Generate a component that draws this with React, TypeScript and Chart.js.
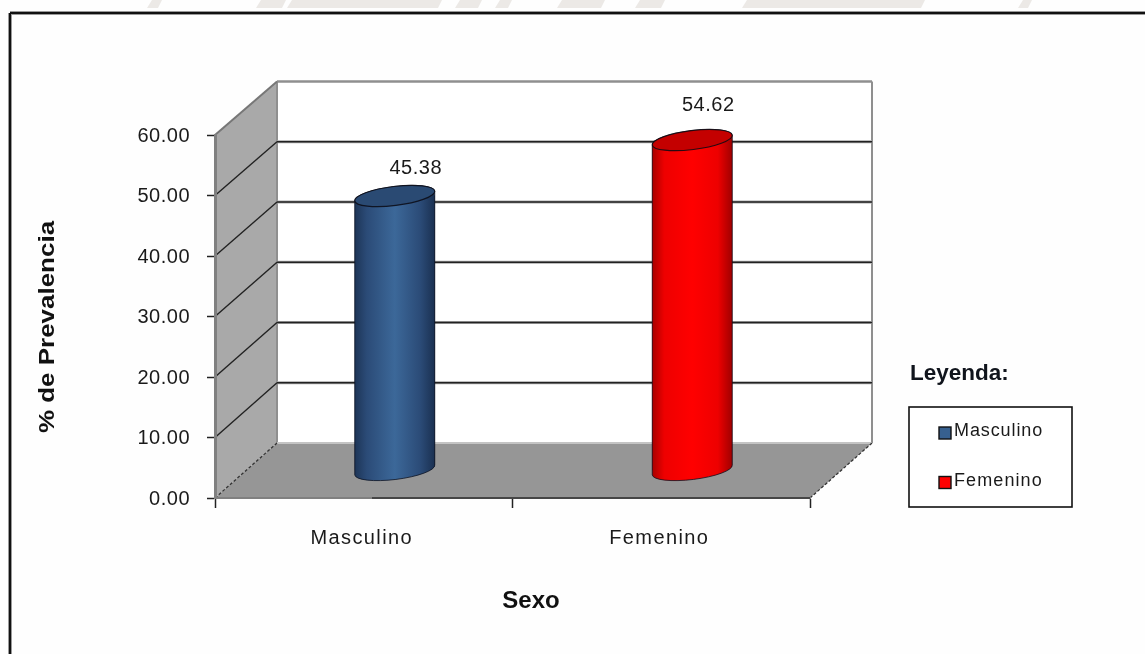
import React, { useEffect, useRef } from "react";
import { Chart, registerables } from "chart.js";

Chart.register(...registerables);

// Prevalencia por sexo
const categories = ["Masculino", "Femenino"];
const prevalence = [45.38, 54.62];
const axisTitleX = "Sexo";
const axisTitleY = "% de Prevalencia";
const bodyStops = [
  ["#1d3557", "#2b4b77", "#3c6899", "#2b4b77", "#1a3051"],
  ["#a80000", "#ee0000", "#ff0000", "#ee0000", "#a00000"],
];
const capColors = ["#2a4a73", "#c40000"];
const swatchColors = ["#37608f", "#ff0000"];
const labelNudges = [
  [21, -27],
  [16, -35],
];

// Depth of the box the cylinders stand in, in pixels
const DEPTH_X = 62;
const DEPTH_Y = 55;
const MID_X = DEPTH_X / 2;
const MID_Y = DEPTH_Y / 2;
// perspective: the back wall is slightly shorter than the front plane
const BACK_SHRINK = 1.5;
const TILT = (-7 * Math.PI) / 180;
const CAP_RY = 9.5;
const TEXT = "#1a1a1a";
const FONT = "'Liberation Sans', Arial, sans-serif";

function cylinderPath(ctx: CanvasRenderingContext2D | Path2D, el: any) {
  const rx = el.width / 2 / Math.cos(TILT);
  if ("beginPath" in ctx) ctx.beginPath();
  ctx.ellipse(el.x, el.y, rx, CAP_RY, TILT, Math.PI, 2 * Math.PI);
  ctx.ellipse(el.x, el.base, rx, CAP_RY, TILT, 0, Math.PI);
  ctx.closePath();
}

function segment(ctx: CanvasRenderingContext2D, x1: number, y1: number, x2: number, y2: number) {
  ctx.beginPath();
  ctx.moveTo(x1, y1);
  ctx.lineTo(x2, y2);
  ctx.stroke();
}

const boxPlugin = {
  id: "box3d",
  beforeDraw(chart: any) {
    const { ctx, chartArea: a, scales } = chart;
    ctx.save();
    ctx.fillStyle = "#fefefe";
    ctx.fillRect(0, 0, chart.width, chart.height);

    // faint letterhead showing above the frame
    ctx.fillStyle = "#ece9e6";
    const marks = [
      [147, 160], [256, 284], [287, 440], [455, 480], [495, 510], [557, 603],
      [635, 663], [742, 923], [1018, 1030],
    ];
    for (const [x1, x2] of marks) {
      ctx.beginPath();
      ctx.moveTo(x1 + 5, 0);
      ctx.lineTo(x2 + 2, 0);
      ctx.lineTo(x2 - 2, 8);
      ctx.lineTo(x1, 8);
      ctx.closePath();
      ctx.fill();
    }

    // outer frame
    ctx.strokeStyle = "#9a9a9a";
    ctx.lineWidth = 4;
    segment(ctx, 10, 13, chart.width, 13);
    segment(ctx, 10, 13, 10, chart.height);
    ctx.strokeStyle = "#111111";
    ctx.lineWidth = 2;
    segment(ctx, 10, 13, chart.width, 13);
    segment(ctx, 10, 13, 10, chart.height);

    const bx = a.left + DEPTH_X;
    const rx = a.right + DEPTH_X;
    const yAt = (v: number) => scales.y.getPixelForValue(v);
    const backY = (v: number) => yAt(v) - DEPTH_Y + (v / 60) * BACK_SHRINK;
    const y0 = yAt(0);
    const yMax = yAt(60);

    // back wall
    ctx.fillStyle = "#ffffff";
    ctx.fillRect(bx, backY(60), rx - bx, backY(0) - backY(60));

    // side wall
    ctx.fillStyle = "#a9a9a9";
    ctx.beginPath();
    ctx.moveTo(a.left, yMax);
    ctx.lineTo(bx, backY(60));
    ctx.lineTo(bx, backY(0));
    ctx.lineTo(a.left, y0);
    ctx.closePath();
    ctx.fill();

    // floor
    ctx.fillStyle = "#969696";
    ctx.beginPath();
    ctx.moveTo(a.left, y0);
    ctx.lineTo(bx, backY(0));
    ctx.lineTo(rx, backY(0));
    ctx.lineTo(a.right, y0);
    ctx.closePath();
    ctx.fill();

    // outline of the back wall
    ctx.strokeStyle = "#8f8f8f";
    ctx.lineWidth = 2.5;
    segment(ctx, bx, backY(60), rx, backY(60));
    ctx.lineWidth = 2;
    segment(ctx, rx, backY(60), rx, backY(0));
    segment(ctx, bx, backY(60), bx, backY(0));
    ctx.strokeStyle = "#c4c4c4";
    segment(ctx, bx, backY(0), rx, backY(0));
    ctx.strokeStyle = "#777777";
    segment(ctx, a.left, yMax, bx, backY(60));

    // gridlines run along the side wall, then across the back wall
    for (const t of scales.y.ticks) {
      if (t.value === 0 || t.value === 60) continue;
      const y = backY(t.value);
      ctx.strokeStyle = "#a8a8a8";
      ctx.lineWidth = 3;
      segment(ctx, bx, y, rx, y);
      ctx.strokeStyle = "#222222";
      ctx.lineWidth = 1.4;
      segment(ctx, a.left, yAt(t.value), bx, y);
      segment(ctx, bx, y, rx, y);
    }

    // dotted floor edges
    ctx.setLineDash([3, 2]);
    ctx.strokeStyle = "#333333";
    ctx.lineWidth = 1.3;
    segment(ctx, a.left, y0, bx, backY(0));
    segment(ctx, a.right, y0, rx, backY(0));
    ctx.setLineDash([]);
    ctx.restore();

    ctx.letterSpacing = "0.5px";
  },
  beforeDatasetsDraw(chart: any) {
    const { ctx, chartArea: a } = chart;
    ctx.save();
    ctx.strokeStyle = "#333333";
    ctx.lineWidth = 1.5;
    segment(ctx, 372, a.bottom, a.right, a.bottom);
    ctx.restore();
  },
  beforeDatasetDraw(chart: any, args: any) {
    const { ctx } = chart;
    const bars = chart.getDatasetMeta(args.index).data;
    ctx.save();
    ctx.translate(MID_X, -MID_Y);
    // the base and body come first, the bars then land inside this outline
    const outline = new Path2D();
    for (const el of bars) {
      cylinderPath(ctx, el);
      ctx.fillStyle = el.options.backgroundColor;
      ctx.fill();
      const p = new Path2D();
      cylinderPath(p, el);
      outline.addPath(p);
    }
    ctx.clip(outline);
  },
  afterDatasetDraw(chart: any, args: any) {
    const { ctx } = chart;
    ctx.restore();
    const bars = chart.getDatasetMeta(args.index).data;
    ctx.save();
    ctx.translate(MID_X, -MID_Y);
    bars.forEach((el: any, i: number) => {
      cylinderPath(ctx, el);
      ctx.strokeStyle = "rgba(10,15,30,0.75)";
      ctx.lineWidth = 1;
      ctx.stroke();
      const rx = el.width / 2 / Math.cos(TILT);
      ctx.beginPath();
      ctx.ellipse(el.x, el.y, rx, CAP_RY, TILT, 0, 2 * Math.PI);
      ctx.fillStyle = capColors[i];
      ctx.fill();
      ctx.strokeStyle = "rgba(10,10,20,0.85)";
      ctx.lineWidth = 1.2;
      ctx.stroke();
    });
    ctx.restore();
  },
  afterDatasetsDraw(chart: any) {
    const { ctx } = chart;
    const bars = chart.getDatasetMeta(0).data;
    ctx.save();
    ctx.font = `20px ${FONT}`;
    ctx.fillStyle = TEXT;
    ctx.textAlign = "center";
    ctx.textBaseline = "middle";
    bars.forEach((el: any, i: number) => {
      const [dx, dy] = labelNudges[i];
      ctx.fillText(prevalence[i].toFixed(2), el.x + MID_X + dx, el.y - MID_Y + dy);
    });
    ctx.restore();
    // category labels are painted after this hook and are set a little wider
    ctx.letterSpacing = "1.4px";
  },
  afterDraw(chart: any) {
    const { ctx } = chart;
    ctx.save();
    ctx.letterSpacing = "0px";
    ctx.textBaseline = "middle";
    ctx.textAlign = "center";
    ctx.fillStyle = "#111111";

    // axis titles sit off-centre from the plot, so they are placed here
    ctx.font = `bold 24px ${FONT}`;
    ctx.fillText(axisTitleX, 531, 601);
    ctx.save();
    ctx.translate(48, 327);
    ctx.rotate(-Math.PI / 2);
    ctx.scale(1.18, 1);
    ctx.font = `bold 22px ${FONT}`;
    ctx.fillText(axisTitleY, 0, 0);
    ctx.restore();

    ctx.textAlign = "left";
    ctx.fillStyle = "#10141c";
    ctx.font = `bold 22.5px ${FONT}`;
    ctx.fillText("Leyenda:", 910, 374);

    ctx.fillStyle = "#ffffff";
    ctx.fillRect(909, 407, 163, 100);
    ctx.strokeStyle = "#111111";
    ctx.lineWidth = 1.6;
    ctx.strokeRect(909, 407, 163, 100);

    categories.forEach((name, i) => {
      const y = 433 + i * 49.5;
      ctx.fillStyle = swatchColors[i];
      ctx.fillRect(939, y - 6, 12, 12);
      ctx.strokeStyle = "#111111";
      ctx.lineWidth = 1.4;
      ctx.strokeRect(939, y - 6, 12, 12);
      ctx.fillStyle = TEXT;
      ctx.font = `18px ${FONT}`;
      ctx.letterSpacing = i === 0 ? "0.9px" : "1.1px";
      ctx.fillText(name, 954, y - 1.5);
    });
    ctx.restore();
  },
};

export default function App() {
  const ref = useRef<HTMLCanvasElement>(null);

  useEffect(() => {
    const chart = new Chart(ref.current!, {
      type: "bar",
      data: {
        labels: categories,
        datasets: [
          {
            data: prevalence,
            barThickness: 80,
            clip: false,
            borderWidth: 0,
            backgroundColor: (c: any) => {
              const i = c.dataIndex ?? 0;
              const x = c.chart.scales.x.getPixelForValue(i);
              // scales are not laid out on the first pass through here
              if (!Number.isFinite(x)) return swatchColors[i];
              const g = c.chart.ctx.createLinearGradient(x - 40, 0, x + 40, 0);
              const stops = bodyStops[i];
              [0, 0.15, 0.5, 0.82, 1].forEach((s, k) => g.addColorStop(s, stops[k]));
              return g;
            },
          } as any,
        ],
      },
      plugins: [boxPlugin],
      options: {
        responsive: false,
        animation: false,
        events: [],
        layout: { padding: { left: 0, top: 135, right: 335, bottom: 0 } },
        plugins: { legend: { display: false }, tooltip: { enabled: false } },
        scales: {
          x: {
            afterFit: (s: any) => {
              s.height = 156;
            },
            grid: {
              drawOnChartArea: false,
              tickLength: 10,
              tickColor: "#222222",
              tickWidth: 1.5,
            },
            border: { color: "#808080", width: 2 },
            ticks: {
              z: 1,
              padding: 18,
              labelOffset: -2,
              color: TEXT,
              font: { family: FONT, size: 20 },
            },
          },
          y: {
            min: 0,
            max: 60,
            afterFit: (s: any) => {
              s.width = 215;
            },
            grid: {
              drawOnChartArea: false,
              tickLength: 8,
              tickColor: "#222222",
              tickWidth: 1.5,
            },
            border: { color: "#808080", width: 3 },
            ticks: {
              z: 0,
              stepSize: 10,
              padding: 17,
              labelOffset: 1,
              color: TEXT,
              font: { family: FONT, size: 20 },
              callback: (v: any) => Number(v).toFixed(2),
            },
          },
        },
      },
    } as any);
    return () => chart.destroy();
  }, []);

  return (
    <div style={{ position: "fixed", left: 0, top: 0, width: 1145, height: 654 }}>
      <canvas ref={ref} width={1145} height={654} style={{ display: "block" }} />
    </div>
  );
}
